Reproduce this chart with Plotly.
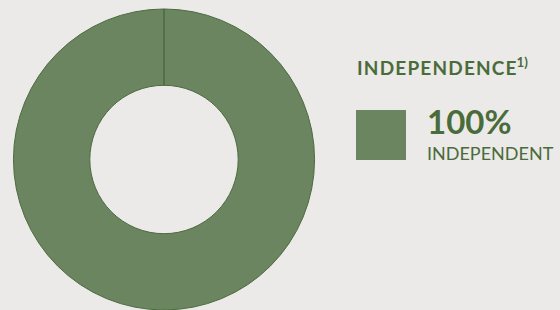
import plotly.graph_objects as go

categories = ["Independent", "Not independent"]
values = [100, 0]
title_text = "INDEPENDENCE"
title_note = "1)"
share_label = "100%"
share_caption = "INDEPENDENT"

BG = "#ebeae8"
FILL = "#6b8561"
EDGE = "#4b6b3e"
TXT = "#4a6b3a"
FONT = "Lato"

fig = go.Figure()
fig.add_trace(go.Pie(
    labels=categories, values=values, hole=0.493,
    sort=False, direction="clockwise", rotation=0,
    marker=dict(colors=[FILL, FILL], line=dict(color=EDGE, width=1)),
    textinfo="none", hoverinfo="label+percent", showlegend=False,
    domain=dict(x=[0.0241, 0.5616], y=[0.0, 0.971]),
))

# legend swatch
fig.add_shape(type="rect", xref="paper", yref="paper",
              x0=356/560, x1=406/560, y0=1-160/310, y1=1-110/310,
              fillcolor=FILL, line=dict(width=0), layer="above")

spaced_title = "\u200a".join(title_text)
fig.add_annotation(text="<b>" + spaced_title + "<sup>" + title_note + "</sup></b>",
                   xref="paper", yref="paper",
                   x=355/560, y=1-66/310, xanchor="left", yanchor="middle",
                   showarrow=False, font=dict(family=FONT, size=19, color=TXT))
fig.add_annotation(text="<b>" + share_label + "</b>", xref="paper", yref="paper",
                   x=425/560, y=1-121/310, xanchor="left", yanchor="middle",
                   showarrow=False, font=dict(family=FONT, size=33, color=TXT))
fig.add_annotation(text=share_caption, xref="paper", yref="paper",
                   x=425/560, y=1-153/310, xanchor="left", yanchor="middle",
                   showarrow=False, font=dict(family=FONT, size=18, color=TXT))

fig.update_layout(width=560, height=310, margin=dict(l=0, r=0, t=0, b=0),
                  paper_bgcolor=BG, plot_bgcolor=BG)
fig.write_html("out.html", config={"displayModeBar": False},
               post_script="document.body.style.margin='0';")
